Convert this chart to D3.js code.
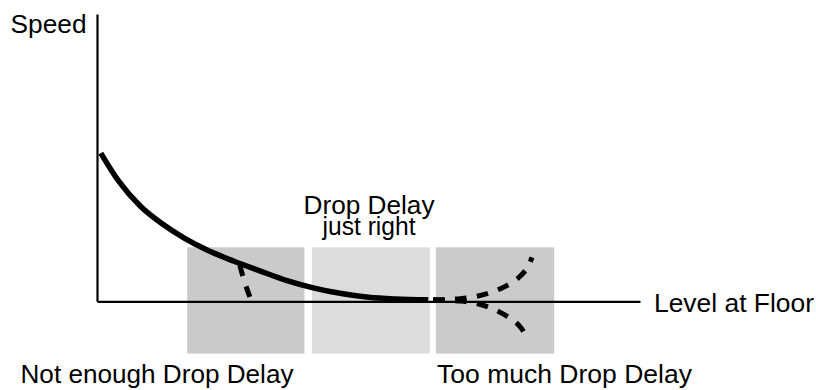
<!DOCTYPE html>
<html>
<head>
<meta charset="utf-8">
<script src="https://cdn.jsdelivr.net/npm/d3@7"></script>
<style>
  html, body { margin: 0; padding: 0; background: #fff; }
  svg { display: block; }
  text { font-family: "Liberation Sans", Arial, Helvetica, sans-serif; font-size: 25px; fill: #000; }
</style>
</head>
<body>
<svg id="chart" width="816" height="390"></svg>
<script>
// Speed versus level: the main decay curve (level 0..100, speed 0..100)
const curveLevel = [0.7, 4, 8, 12, 16, 20, 25, 30, 35, 40, 45, 50, 55, 61];
const curveSpeed = [51.6, 41.8, 33.1, 27.0, 22.1, 18.1, 14.1, 10.6, 7.2, 4.6, 2.7, 1.4, 0.8, 0.5];

// Dashed branch: drop delay too short, the piece falls straight to the floor
const shortLevel = [26.3, 27.2, 28.3];
const shortSpeed = [12.5, 6.6, 0.7];

// Dashed branches: drop delay too long, the piece overshoots either way
const overLevel = [61.9, 64.1, 66.9, 69.6, 72.4, 75.1, 77.5, 79.2, 80.1];
const overSpeed = [0.5, 0.6, 0.9, 1.6, 3.0, 5.1, 8.0, 11.5, 15.3];
const underLevel = [61.9, 64.1, 66.9, 69.6, 72.4, 75.1, 77.0, 78.3, 79.4];
const underSpeed = [0.5, 0.3, 0.1, -0.6, -2.2, -4.7, -7.1, -9.8, -13.9];

// Drop delay zones along the level axis
const zoneNames = ["Not enough Drop Delay", "Drop Delay just right", "Too much Drop Delay"];
const zoneStart = [16.6, 39.6, 62.4];
const zoneEnd = [38.2, 61.3, 84.2];
const zoneSpeedLow = -18.2;
const zoneSpeedHigh = 18.8;

const zoneFill = ["#cacaca", "#dcdcdc", "#cbcbcb"];

const svg = d3.select("#chart");
const x = d3.scaleLinear().domain([0, 100]).range([97, 640]);
const y = d3.scaleLinear().domain([0, 100]).range([301.3, 14]);

// zones
svg.append("g").selectAll("rect")
  .data(zoneNames.map((n, i) => ({ name: n, x0: zoneStart[i], x1: zoneEnd[i], fill: zoneFill[i] })))
  .join("rect")
  .attr("x", d => x(d.x0))
  .attr("width", d => x(d.x1) - x(d.x0))
  .attr("y", y(zoneSpeedHigh))
  .attr("height", y(zoneSpeedLow) - y(zoneSpeedHigh))
  .attr("fill", d => d.fill);

// axes without ticks
const xAxis = svg.append("g")
  .attr("transform", `translate(0,${y(0)})`)
  .call(d3.axisBottom(x).tickValues([]).tickSizeOuter(0));
const yAxis = svg.append("g")
  .attr("transform", `translate(${x(0)},0)`)
  .call(d3.axisLeft(y).tickValues([]).tickSizeOuter(0));
svg.selectAll(".domain").attr("stroke", "#000").attr("stroke-width", 2.2);

const line = d3.line().x(d => x(d[0])).y(d => y(d[1])).curve(d3.curveMonotoneX);
const lineY = d3.line().x(d => x(d[0])).y(d => y(d[1])).curve(d3.curveCatmullRom);

svg.append("path")
  .attr("d", line(d3.zip(curveLevel, curveSpeed)))
  .attr("fill", "none").attr("stroke", "#000").attr("stroke-width", 5.5);

svg.append("path")
  .attr("d", lineY(d3.zip(shortLevel, shortSpeed)))
  .attr("fill", "none").attr("stroke", "#000").attr("stroke-width", 5)
  .attr("stroke-dasharray", "11,11");

[[overLevel, overSpeed], [underLevel, underSpeed]].forEach(([lv, sp]) => {
  svg.append("path")
    .attr("d", lineY(d3.zip(lv, sp)))
    .attr("fill", "none").attr("stroke", "#000").attr("stroke-width", 5)
    .attr("stroke-dasharray", "11.5,10.5");
});

// labels
const labels = [
  { t: "Speed", x: 10.5, y: 33, len: 76 },
  { t: "Level at Floor", x: 654, y: 311.5, len: 160 },
  { t: "Drop Delay", x: 303.5, y: 213.5, len: 131 },
  { t: "just right", x: 322.5, y: 235, len: 93 },
  { t: "Not enough Drop Delay", x: 20.5, y: 383, len: 273 },
  { t: "Too much Drop Delay", x: 437, y: 382.5, len: 255 }
];
svg.append("g").selectAll("text")
  .data(labels)
  .join("text")
  .attr("x", d => d.x)
  .attr("y", d => d.y)
  .attr("textLength", d => d.len)
  .attr("lengthAdjust", "spacingAndGlyphs")
  .text(d => d.t);
</script>
</body>
</html>
